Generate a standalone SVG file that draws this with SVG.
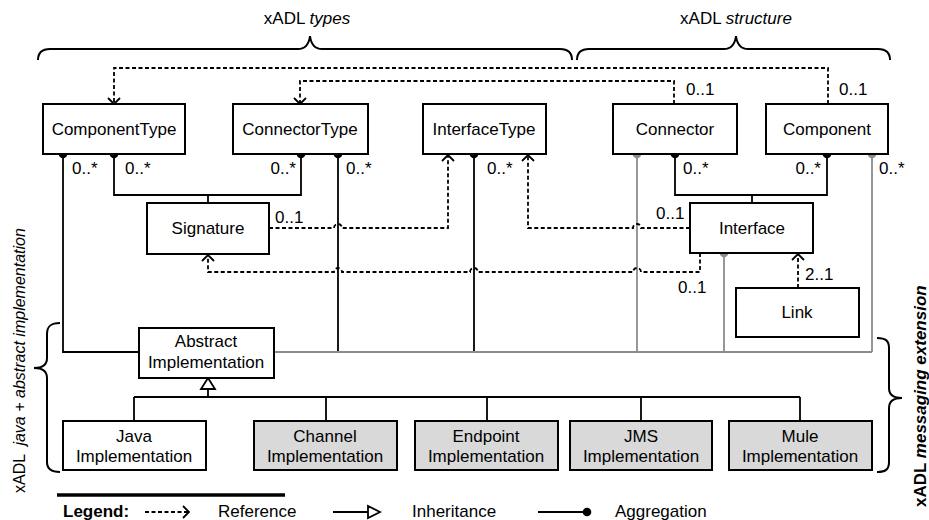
<svg xmlns="http://www.w3.org/2000/svg" width="929" height="520" viewBox="0 0 929 520">
<defs>
<style>
text{font-family:"Liberation Sans",Arial,sans-serif;font-size:17px;fill:#000}
.lbl{font-size:16.5px}
.box{fill:#fff;stroke:#000;stroke-width:2}
.ext{fill:#d9d9d9;stroke:#000;stroke-width:2}
.agg{fill:none;stroke:#000;stroke-width:1.8}
.aggg{fill:none;stroke:#8c8c8c;stroke-width:1.8}
.ref{fill:none;stroke:#000;stroke-width:1.8;stroke-dasharray:4,2.5}
.brace{fill:none;stroke:#000;stroke-width:2}
.dot{fill:#000}
.dotg{fill:#8c8c8c}
</style>
<marker id="arr" viewBox="-8 -8 10 16" markerWidth="10" markerHeight="16" markerUnits="userSpaceOnUse" orient="auto" refX="0" refY="0">
<path d="M -6,-6 L 0,0 L -6,6" fill="none" stroke="#000" stroke-width="1.8" stroke-dasharray="none"/>
</marker>
</defs>
<rect width="929" height="520" fill="#fff"/>

<g id="braces">
<path class="brace" d="M 38,60 C 38,52 42,49 50,49 L 298,49 C 305,49 309,44 310,36 C 311,44 315,49 322,49 L 560,49 C 568,49 572,52 572,60"/>
<path class="brace" d="M 577,60 C 577,52 581,49 589,49 L 724,49 C 731,49 735,44 736,36 C 737,44 741,49 748,49 L 878,49 C 886,49 890,52 890,60"/>
<path class="brace" d="M 60,323 C 51,323 47,326 47,334 L 47,358 C 47,365 42,368 34,368 C 42,368 47,371 47,378 L 47,462 C 47,469 51,472 60,472"/>
<path class="brace" d="M 877,338 C 886,338 889,341 889,348 L 889,388 C 889,395 894,398 902,398 C 894,398 889,401 889,408 L 889,462 C 889,469 886,472 877,472"/>
<text x="307" y="24" text-anchor="middle">xADL <tspan font-style="italic">types</tspan></text>
<text x="736" y="24" text-anchor="middle">xADL <tspan font-style="italic">structure</tspan></text>
<text transform="translate(25,493) rotate(-90)" style="white-space:pre;font-size:16px">xADL  <tspan font-style="italic">java + abstract implementation</tspan></text>
<text transform="translate(926,507) rotate(-90)" font-weight="bold">xADL <tspan font-style="italic">messaging extension</tspan></text>
</g>

<g id="connectors">
<path class="agg" d="M 63,154 L 63,352 L 139,352"/>
<path class="agg" d="M 114,154 L 114,195 L 301,195 L 301,154 M 208,195 L 208,203"/>
<path class="agg" d="M 338,154 L 338,352"/>
<path class="agg" d="M 474,154 L 474,352"/>
<path class="agg" d="M 675,154 L 675,195 L 827,195 L 827,154 M 752,195 L 752,203"/>
<path class="aggg" d="M 274,352 L 872,352"/>
<path class="aggg" d="M 637,154 L 637,352"/>
<path class="aggg" d="M 724,253 L 724,352"/>
<path class="aggg" d="M 872,154 L 872,352"/>
<circle class="dot" cx="63" cy="154" r="4.3"/>
<circle class="dot" cx="114" cy="154" r="4.3"/>
<circle class="dot" cx="301" cy="154" r="4.3"/>
<circle class="dot" cx="338" cy="154" r="4.3"/>
<circle class="dot" cx="474" cy="154" r="4.3"/>
<circle class="dotg" cx="637" cy="154" r="4.3"/>
<circle class="dot" cx="675" cy="154" r="4.3"/>
<circle class="dot" cx="827" cy="154" r="4.3"/>
<circle class="dotg" cx="872" cy="154" r="4.3"/>
<circle class="dotg" cx="724" cy="253" r="4.3"/>
<path class="ref" d="M 828,104 L 828,68 L 114,68 L 114,104" marker-end="url(#arr)"/>
<path class="ref" d="M 674,104 L 674,81 L 300,81 L 300,104" marker-end="url(#arr)"/>
<path class="ref" d="M 269,228 L 334,228 A 4,4 0 0 1 342,228 L 448,228 L 448,155" marker-end="url(#arr)"/>
<path class="ref" d="M 690,228 L 641,228 A 4,4 0 0 0 633,228 L 528,228 L 528,155" marker-end="url(#arr)"/>
<path class="ref" d="M 700,253 L 700,272 L 641,272 A 4,4 0 0 0 633,272 L 478,272 A 4,4 0 0 0 470,272 L 342,272 A 4,4 0 0 0 334,272 L 208,272 L 208,255" marker-end="url(#arr)"/>
<path class="ref" d="M 798,288 L 798,254" marker-end="url(#arr)"/>
<path class="agg" d="M 208,389 L 208,397 M 134,397 L 800,397 M 134,397 L 134,421 M 326,397 L 326,421 M 487,397 L 487,421 M 641,397 L 641,421 M 800,397 L 800,421"/>
<path d="M 208,378 L 201,389 L 215,389 Z" fill="#fff" stroke="#000" stroke-width="1.8"/>
</g>

<g id="labels" class="lbl">
<text x="839" y="95">0..1</text>
<text x="686" y="95">0..1</text>
<text x="72" y="174">0..*</text>
<text x="125" y="174">0..*</text>
<text x="296" y="174" text-anchor="end">0..*</text>
<text x="346" y="174">0..*</text>
<text x="487" y="174">0..*</text>
<text x="683" y="174">0..*</text>
<text x="821" y="174" text-anchor="end">0..*</text>
<text x="879" y="174">0..*</text>
<text x="275" y="223">0..1</text>
<text x="656" y="219">0..1</text>
<text x="678" y="293">0..1</text>
<text x="805" y="280">2..1</text>
</g>

<g id="ComponentType"><rect class="box" x="43" y="104" width="142" height="50"/><text x="114" y="135" text-anchor="middle">ComponentType</text></g>
<g id="ConnectorType"><rect class="box" x="233" y="104" width="135" height="50"/><text x="300" y="135" text-anchor="middle">ConnectorType</text></g>
<g id="InterfaceType"><rect class="box" x="423" y="104" width="123" height="50"/><text x="484" y="135" text-anchor="middle">InterfaceType</text></g>
<g id="Connector"><rect class="box" x="613" y="104" width="124" height="50"/><text x="675" y="135" text-anchor="middle">Connector</text></g>
<g id="Component"><rect class="box" x="766" y="104" width="122" height="50"/><text x="827" y="135" text-anchor="middle">Component</text></g>
<g id="Signature"><rect class="box" x="147" y="203" width="122" height="51"/><text x="208" y="234" text-anchor="middle">Signature</text></g>
<g id="Interface"><rect class="box" x="690" y="203" width="123" height="50"/><text x="752" y="234" text-anchor="middle">Interface</text></g>
<g id="Link"><rect class="box" x="736" y="288" width="123" height="49"/><text x="797" y="318" text-anchor="middle">Link</text></g>
<g id="AbstractImplementation"><rect class="box" x="139" y="328" width="135" height="50"/><text x="206" y="347" text-anchor="middle">Abstract</text><text x="206" y="368" text-anchor="middle">Implementation</text></g>
<g id="JavaImplementation"><rect class="box" x="63" y="421" width="143" height="49"/><text x="134" y="442" text-anchor="middle">Java</text><text x="134" y="462" text-anchor="middle">Implementation</text></g>
<g id="ChannelImplementation"><rect class="ext" x="254" y="421" width="143" height="49"/><text x="325" y="442" text-anchor="middle">Channel</text><text x="325" y="462" text-anchor="middle">Implementation</text></g>
<g id="EndpointImplementation"><rect class="ext" x="415" y="421" width="143" height="49"/><text x="486" y="442" text-anchor="middle">Endpoint</text><text x="486" y="462" text-anchor="middle">Implementation</text></g>
<g id="JMSImplementation"><rect class="ext" x="570" y="421" width="142" height="49"/><text x="641" y="442" text-anchor="middle">JMS</text><text x="641" y="462" text-anchor="middle">Implementation</text></g>
<g id="MuleImplementation"><rect class="ext" x="729" y="421" width="143" height="49"/><text x="800" y="442" text-anchor="middle">Mule</text><text x="800" y="462" text-anchor="middle">Implementation</text></g>

<g id="legend">
<line x1="57" y1="495" x2="285" y2="495" stroke="#000" stroke-width="3.5"/>
<text x="63" y="517" font-weight="bold">Legend:</text>
<path class="ref" d="M 145,512 L 189,512" marker-end="url(#arr)"/>
<text x="218" y="517">Reference</text>
<path class="agg" d="M 333,512 L 368,512"/>
<path d="M 380,512 L 368,506 L 368,518 Z" fill="#fff" stroke="#000" stroke-width="1.8"/>
<text x="412" y="517">Inheritance</text>
<path class="agg" d="M 538,512 L 586,512"/>
<circle class="dot" cx="587" cy="512" r="4.3"/>
<text x="615" y="517">Aggregation</text>
</g>
</svg>
